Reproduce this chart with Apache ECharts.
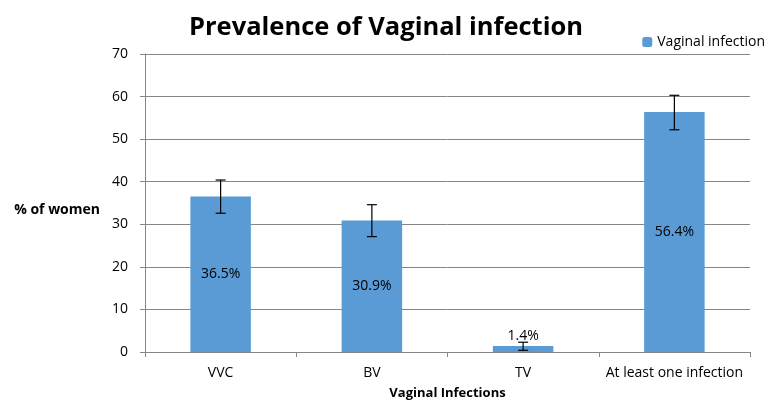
<!DOCTYPE html>
<html>
<head>
<meta charset="utf-8">
<script src="https://cdn.jsdelivr.net/npm/echarts@6/dist/echarts.min.js"></script>
<style>
  html, body { margin: 0; padding: 0; background: #fff; }
  #chart { width: 772px; height: 400px; }
</style>
</head>
<body>
<div id="chart"></div>
<script>
// 数据
const categories = ['VVC', 'BV', 'TV', 'At least one infection']
const prevalence = [36.5, 30.9, 1.4, 56.4]
const errLow = [32.6, 27.1, 0.4, 52.2]
const errHigh = [40.4, 34.6, 2.3, 60.3]
const yTicks = [0, 10, 20, 30, 40, 50, 60, 70]

const font = 'Open Sans, Liberation Sans, sans-serif'
const chart = echarts.init(document.getElementById('chart'))

const errData = categories.map((c, i) => [i, errLow[i], errHigh[i]])
// 太矮的柱子 标签放到上面
const barData = prevalence.map(v => v < 5
  ? { value: v, label: { position: 'top', distance: 3 } }
  : v)

const option = {
  animation: false,
  title: {
    text: 'Prevalence of Vaginal infection',
    left: 'center',
    top: 10,
    textStyle: { fontFamily: font, fontSize: 25.5, fontWeight: 'bold', color: '#000' }
  },
  legend: {
    right: 2,
    top: 30,
    itemWidth: 10,
    itemHeight: 10,
    itemGap: 4,
    textStyle: { fontFamily: font, fontSize: 14, color: '#000' },
    data: ['Vaginal infection']
  },
  grid: { left: 145, right: 22, top: 54, bottom: 48, outerBoundsMode: 'none' },
  xAxis: {
    type: 'category',
    data: categories,
    name: 'Vaginal Infections',
    nameLocation: 'middle',
    nameGap: 35,
    nameTextStyle: { fontFamily: font, fontSize: 13, fontWeight: 'bold', color: '#000' },
    axisLine: { lineStyle: { color: '#868686' } },
    axisTick: { show: true, length: 5, lineStyle: { color: '#868686' } },
    axisLabel: { interval: 0, fontFamily: font, fontSize: 14, color: '#000', margin: 14 }
  },
  yAxis: {
    type: 'value',
    min: 0,
    max: 70,
    interval: 10,
    name: '% of women',
    nameLocation: 'middle',
    nameRotate: 0,
    nameGap: 45,
    nameTextStyle: { fontFamily: font, fontSize: 14, fontWeight: 'bold', color: '#000', align: 'right', verticalAlign: 'top' },
    axisLine: { show: true, lineStyle: { color: '#868686' } },
    axisTick: { show: true, length: 5, lineStyle: { color: '#868686' } },
    axisLabel: {
      fontFamily: font, fontSize: 14, color: '#000', margin: 17,
      formatter: v => yTicks.includes(v) ? String(v) : ''
    },
    splitLine: { lineStyle: { color: '#868686' } }
  },
  series: [
    {
      name: 'Vaginal infection',
      type: 'bar',
      data: barData,
      barWidth: '40%',
      itemStyle: { color: '#5B9BD5' },
      label: {
        show: true,
        fontFamily: font,
        fontSize: 14,
        color: '#000',
        formatter: p => p.value + '%',
        position: 'inside'
      }
    },
    {
      name: 'err',
      type: 'custom',
      data: errData,
      z: 5,
      renderItem: (params, api) => {
        const x = api.value(0)
        const lo = api.coord([x, api.value(1)])
        const hi = api.coord([x, api.value(2)])
        const w = 5
        const style = { stroke: '#000', lineWidth: 1.2 }
        return {
          type: 'group',
          children: [
            { type: 'line', shape: { x1: hi[0], y1: hi[1], x2: lo[0], y2: lo[1] }, style },
            { type: 'line', shape: { x1: hi[0] - w, y1: hi[1], x2: hi[0] + w, y2: hi[1] }, style },
            { type: 'line', shape: { x1: lo[0] - w, y1: lo[1], x2: lo[0] + w, y2: lo[1] }, style }
          ]
        }
      }
    }
  ]
}
chart.setOption(option)
</script>
</body>
</html>
